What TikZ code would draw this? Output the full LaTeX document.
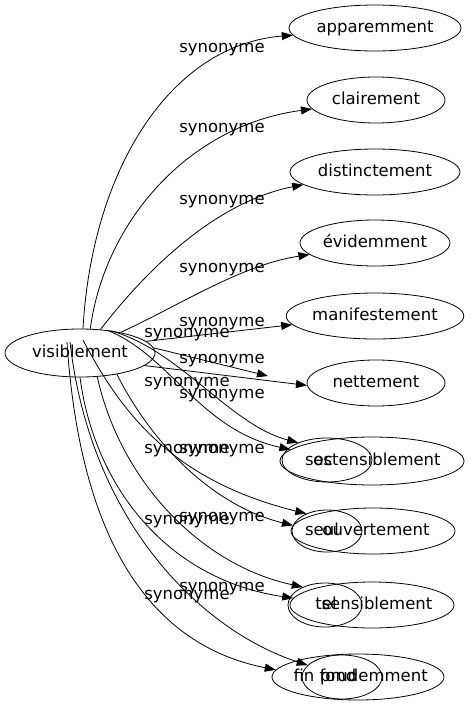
\documentclass[tikz,border=0pt]{standalone}
\usepackage{fontspec}
\setmainfont{DejaVu Sans}
\usetikzlibrary{shapes.geometric,arrows.meta}
\tikzset{
  word/.style={draw,ellipse,inner sep=0pt,minimum height=46pt,line width=0.8pt,text height=12pt,text depth=3.5pt,font=\fontsize{16.5}{18}\selectfont},
  txt/.style={inner sep=0pt,text height=12pt,text depth=3.5pt,font=\fontsize{16.5}{18}\selectfont},
  syn/.style={-{Triangle[length=11pt,width=8pt]},line width=0.8pt}
}
\begin{document}
\begin{tikzpicture}[x=1pt,y=-1pt]
    \useasboundingbox (0,0) rectangle (469,707);
    % source and the plain targets
    \node[word,minimum width=150pt,minimum height=48pt] (vis) at (80,353) {visiblement};
    \node[word,minimum width=172pt] (app) at (375,28) {apparemment};
    \node[word,minimum width=138pt] (clai) at (376,100) {clairement};
    \node[word,minimum width=170pt] (dist) at (375,172) {distinctement};
    \node[word,minimum width=150pt] (evid) at (375,243) {évidemment};
    \node[word,minimum width=176pt] (mani) at (375,316) {manifestement};
    \node[word,minimum width=138pt] (nett) at (376,383) {nettement};
    % overlapping pairs
    \node[word,minimum width=184pt,minimum height=48pt] (ost) at (372,461) {};
    \node[word,minimum width=90pt,minimum height=44pt] (ostb) at (327,460) {};
    \node[txt] (ostt) at (377,461) {ostensiblement};
    \node[txt] (ostbt) at (319,461) {sec};
    \node[word,minimum width=164pt] (ouv) at (373,531) {};
    \node[word,minimum width=70pt,minimum height=42pt] (ouvb) at (327,531) {};
    \node[txt] (ouvt) at (376,531) {ouvertement};
    \node[txt] (ouvbt) at (322,531) {seul};
    \node[word,minimum width=164pt] (sens) at (372,605) {};
    \node[word,minimum width=74pt,minimum height=44pt] (sensb) at (325,605) {};
    \node[txt] (senst) at (377,605) {sensiblement};
    \node[txt] (sensbt) at (326,605) {tel};
    \node[word,minimum width=172pt] (prud) at (358,677) {};
    \node[word,minimum width=80pt,minimum height=44pt] (prudb) at (342,677) {};
    \node[txt] (prudt) at (374,677) {prudemment};
    \node[txt] (prudbt) at (325,677) {fin fond};
    \coordinate (stub) at (268,376);
    % edges
    \draw[syn] (vis.83) .. controls (92,170) and (170,45) .. (app.185);
    \draw[syn] (vis.67) .. controls (105,220) and (190,125) .. (clai.188);
    \draw[syn] (vis.49) .. controls (125,298) and (200,205) .. (dist.190);
    \draw[syn] (vis.27) .. controls (175,308) and (240,265) .. (evid.190);
    \draw[syn] (vis.10) -- (mani.186);
    \draw[syn] (vis.4) -- (stub);
    \draw[syn] (vis.-11) -- (nett.182);
    \draw[syn] (vis.40) .. controls (170,355) and (200,430) .. (ost.172);
    \draw[syn] (vis.36) .. controls (180,350) and (230,425) .. (ostb.149);
    \draw[syn] ([shift={(3,-13)}]vis.center) .. controls (120,410) and (170,480) .. (ouvb.140);
    \draw[syn] (vis.-30) .. controls (150,440) and (210,505) .. (ouv.176);
    \draw[syn] (vis.-54) .. controls (120,480) and (200,565) .. (sensb.141);
    \draw[syn] (vis.-90) .. controls (95,490) and (170,580) .. (sens.175);
    \draw[syn] ([shift={(-10,-11)}]vis.center) .. controls (90,520) and (200,630) .. (prudb.161);
    \draw[syn] ([shift={(-13,-11)}]vis.center) .. controls (80,540) and (150,645) .. (prud.175);
    % edge labels
    \node[txt] (s1) at (222,48) {synonyme};
    \node[txt] (s2) at (222,128) {synonyme};
    \node[txt] (s3) at (222,200) {synonyme};
    \node[txt] (s4) at (222,268) {synonyme};
    \node[txt] (s5) at (222,322) {synonyme};
    \node[txt] (s6) at (187,333) {synonyme};
    \node[txt] (s7) at (222,359) {synonyme};
    \node[txt] (s8) at (187,382) {synonyme};
    \node[txt] (s9) at (222,394) {synonyme};
    \node[txt] (s10) at (187,449) {synonyme};
    \node[txt] (s11) at (222,449) {synonyme};
    \node[txt] (s12) at (222,517) {synonyme};
    \node[txt] (s13) at (187,520) {synonyme};
    \node[txt] (s14) at (222,587) {synonyme};
    \node[txt] (s15) at (187,595) {synonyme};
\end{tikzpicture}
\end{document}
